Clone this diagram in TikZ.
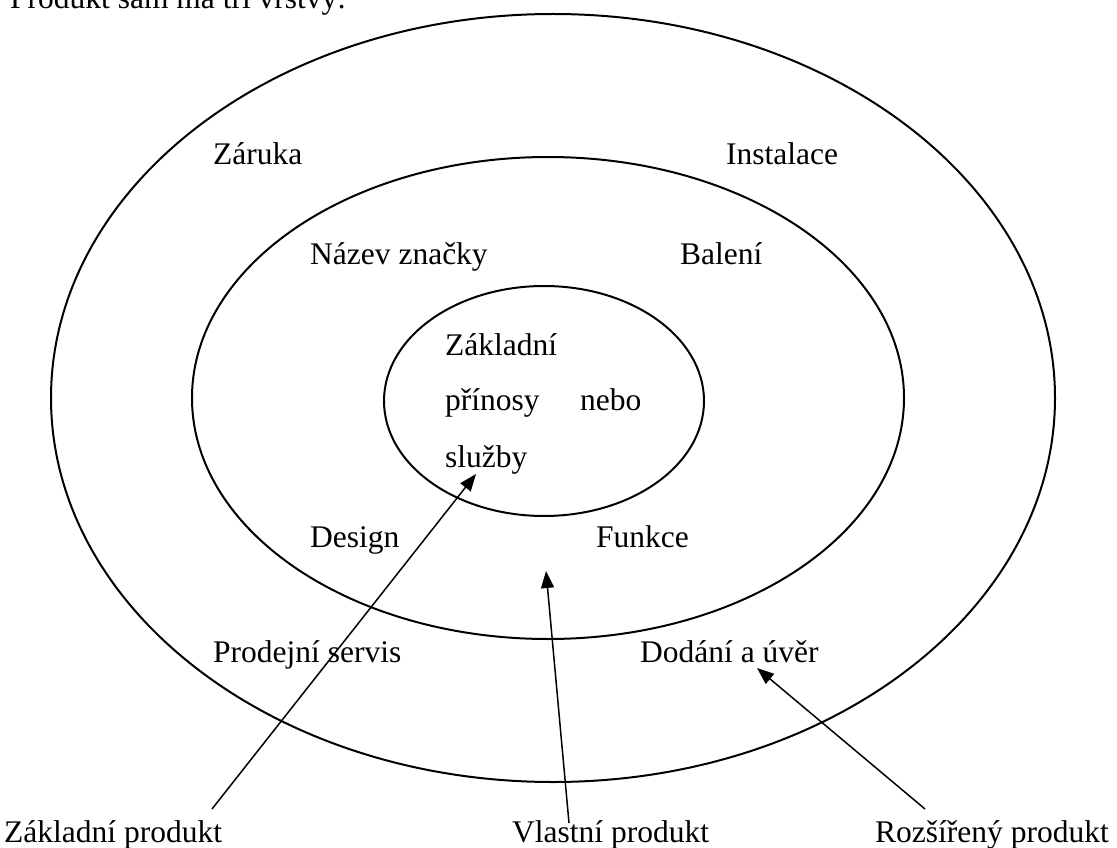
\documentclass[tikz,border=0pt]{standalone}
\usepackage{fontspec}
\setmainfont{Liberation Serif}
\usetikzlibrary{arrows.meta}

\begin{document}
\begin{tikzpicture}[x=1pt, y=-1pt, >={Triangle[length=17pt,width=13pt]},
    ring/.style={line width=2pt},
    lbl/.style={anchor=base west, inner sep=0pt, font=\fontsize{31.5}{38}\selectfont},
    arr/.style={->, line width=1.5pt}]
    \useasboundingbox (0,0) rectangle (1117,848);
    \node[lbl] (title) at (10,9) {Produkt sám má tři vrstvy:};

    % three layers
    \draw[ring] (553,398) ellipse [x radius=502pt, y radius=384pt];
    \draw[ring] (548,398) ellipse [x radius=356pt, y radius=241pt];
    \draw[ring] (544,401) ellipse [x radius=160pt, y radius=115pt];

    \node[lbl] (zaruka) at (213,165) {Záruka};
    \node[lbl] (instalace) at (726,165) {Instalace};
    \node[lbl] (znacka) at (310,264) {Název značky};
    \node[lbl] (baleni) at (680,264) {Balení};
    \node[lbl] (zakl) at (445,355) {Základní};
    \node[lbl] (prinosy) at (445,410) {přínosy};
    \node[lbl] (nebo) at (580,410) {nebo};
    \node[lbl] (sluzby) at (445,467) {služby};
    \node[lbl] (design) at (310,547) {Design};
    \node[lbl] (funkce) at (596,547) {Funkce};
    \node[lbl] (servis) at (213,662) {Prodejní servis};
    \node[lbl] (dodani) at (640,662) {Dodání a úvěr};

    \node[lbl] (zprod) at (4,842) {Základní produkt};
    \node[lbl] (vprod) at (512,842) {Vlastní produkt};
    \node[lbl] (rprod) at (875,842) {Rozšířený produkt};
    \coordinate (vtip) at (546,571);

    \draw[arr] ([xshift=208pt,yshift=33pt]zprod.base west) -- ([xshift=31pt,yshift=-7pt]sluzby.base west);
    \draw[arr] ([xshift=57pt,yshift=19pt]vprod.base west) -- (vtip);
    \draw[arr] ([xshift=50pt,yshift=33pt]rprod.base west) -- ([xshift=117pt,yshift=-6pt]dodani.base west);
\end{tikzpicture}
\end{document}
